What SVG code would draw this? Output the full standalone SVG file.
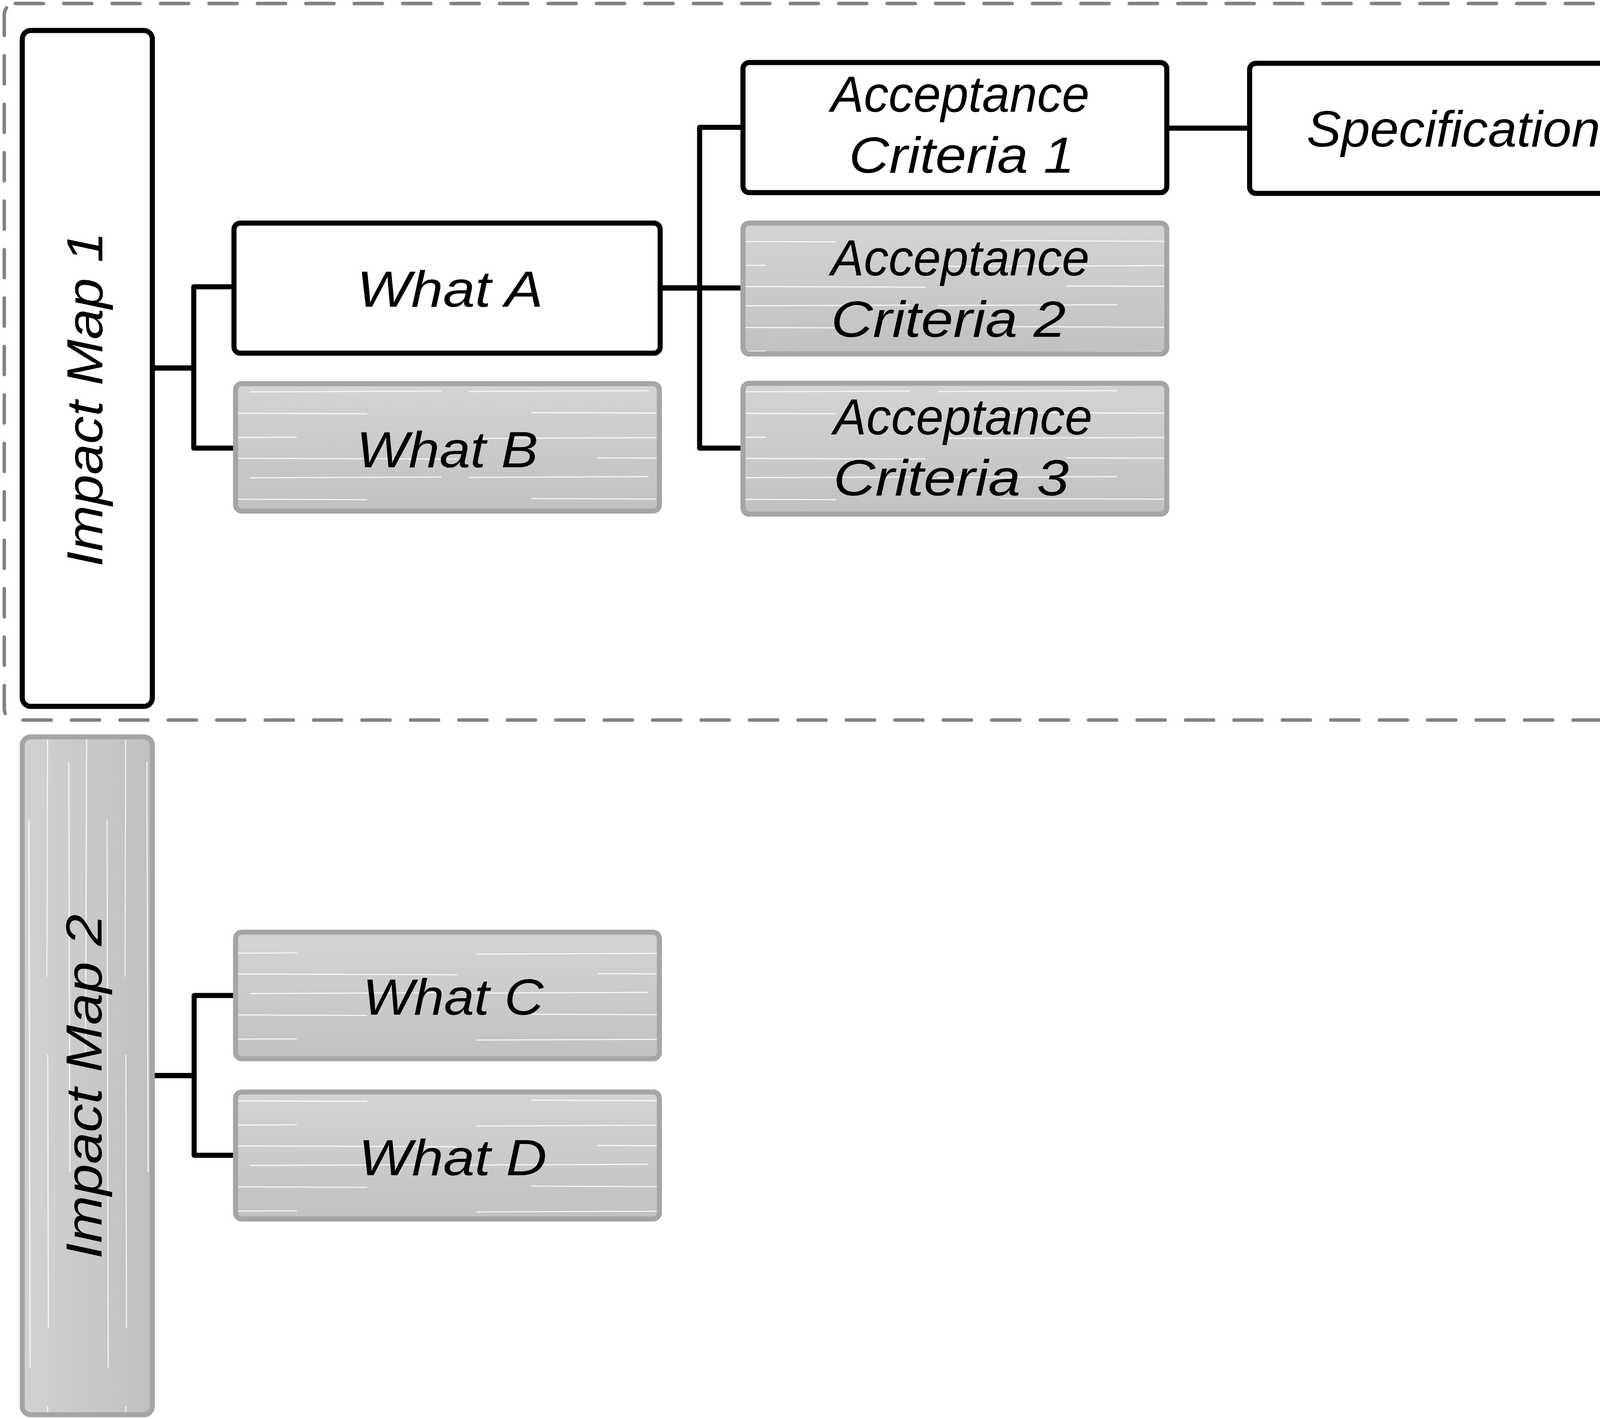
<svg xmlns="http://www.w3.org/2000/svg" width="4401" height="3632" viewBox="0 0 4401 3632">
<style>
  .lbl { font-family: "Liberation Sans", "Noto Sans", sans-serif; font-style: italic; font-size: 130px; fill: #000; text-anchor: middle; }
  .wbox { fill: #ffffff; stroke: #000; stroke-width: 13; stroke-linejoin: round; }
  .gbox { stroke: #a5a5a5; stroke-width: 13; stroke-linejoin: round; }
  .conn { fill: none; stroke: #000; stroke-width: 13; stroke-linecap: round; stroke-linejoin: round; }
  .frame { fill: none; stroke: #828282; stroke-width: 9; stroke-dasharray: 72 52; stroke-linecap: round; }
</style>
<defs>
  <linearGradient id="gV" x1="0" y1="0" x2="0" y2="1">
    <stop offset="0" stop-color="#d4d4d4"/>
    <stop offset="1" stop-color="#c1c1c1"/>
  </linearGradient>
  <linearGradient id="gH" x1="0" y1="0" x2="1" y2="0">
    <stop offset="0" stop-color="#d2d2d2"/>
    <stop offset="1" stop-color="#c0c0c0"/>
  </linearGradient>
  <pattern id="streakH" patternUnits="userSpaceOnUse" width="1200" height="220">
    <g stroke="#ffffff" stroke-width="3" stroke-opacity="0.8" fill="none">
      <path d="M20,22 L760,19"/>
      <path d="M330,72 L1170,75"/>
      <path d="M0,122 L460,120 M640,123 L1130,121"/>
      <path d="M160,176 L940,179"/>
    </g>
  </pattern>
  <pattern id="streakV" patternUnits="userSpaceOnUse" width="200" height="1800">
    <g stroke="#ffffff" stroke-width="3" stroke-opacity="0.8" fill="none">
      <path d="M22,20 L19,900"/>
      <path d="M74,300 L77,1700"/>
      <path d="M122,0 L120,700 M122,900 L124,1600"/>
      <path d="M176,150 L179,1200"/>
    </g>
  </pattern>
</defs>
<rect width="4401" height="3632" fill="#ffffff"/>

<g id="container">
  <rect class="frame" x="11" y="9" width="4377" height="1834" rx="28"/>
</g>

<g id="connectors">
  <path class="conn" d="M390,942 L496,942 L496,734 L599,734"/>
  <path class="conn" d="M390,942 L496,942 L496,1147 L603,1147"/>
  <path class="conn" d="M1690,737 L1791,737 L1791,326 L1902,326"/>
  <path class="conn" d="M1690,737 L1902,737"/>
  <path class="conn" d="M1690,737 L1791,737 L1791,1147 L1902,1147"/>
  <path class="conn" d="M2987,328 L3199,328"/>
  <path class="conn" d="M390,2753 L497,2753 L497,2548 L603,2548"/>
  <path class="conn" d="M390,2753 L497,2753 L497,2957 L603,2957"/>
</g>

<g id="impact-map-1">
  <rect class="wbox" x="57" y="78" width="333" height="1730" rx="22"/>
  <text class="lbl" transform="translate(262,1022) rotate(-90)" textLength="857" lengthAdjust="spacingAndGlyphs">Impact Map 1</text>
</g>

<g id="what-a">
  <rect class="wbox" x="599" y="571" width="1091" height="333" rx="16"/>
  <text class="lbl" x="1152" y="785" textLength="477" lengthAdjust="spacingAndGlyphs">What A</text>
</g>

<g id="what-b">
  <rect x="603" y="982" width="1085" height="326" rx="16" fill="url(#gV)"/>
  <rect class="gbox" x="603" y="982" width="1085" height="326" rx="16" fill="url(#streakH)"/>
  <text class="lbl" x="1145" y="1196" textLength="465" lengthAdjust="spacingAndGlyphs">What B</text>
</g>

<g id="acceptance-criteria-1">
  <rect class="wbox" x="1902" y="160" width="1085" height="333" rx="16"/>
  <text class="lbl" x="2458" y="286" textLength="662" lengthAdjust="spacingAndGlyphs">Acceptance</text>
  <text class="lbl" x="2462" y="442" textLength="577" lengthAdjust="spacingAndGlyphs">Criteria 1</text>
</g>

<g id="specifications">
  <rect class="wbox" x="3199" y="162" width="1081" height="333" rx="16"/>
  <text class="lbl" x="3754" y="375" textLength="818" lengthAdjust="spacingAndGlyphs">Specifications</text>
</g>

<g id="acceptance-criteria-2">
  <rect x="1902" y="571" width="1085" height="335" rx="16" fill="url(#gV)"/>
  <rect class="gbox" x="1902" y="571" width="1085" height="335" rx="16" fill="url(#streakH)"/>
  <text class="lbl" x="2458" y="705" textLength="662" lengthAdjust="spacingAndGlyphs">Acceptance</text>
  <text class="lbl" x="2428" y="862" textLength="601" lengthAdjust="spacingAndGlyphs">Criteria 2</text>
</g>

<g id="acceptance-criteria-3">
  <rect x="1902" y="981" width="1085" height="335" rx="16" fill="url(#gV)"/>
  <rect class="gbox" x="1902" y="981" width="1085" height="335" rx="16" fill="url(#streakH)"/>
  <text class="lbl" x="2465" y="1112" textLength="663" lengthAdjust="spacingAndGlyphs">Acceptance</text>
  <text class="lbl" x="2435" y="1268" textLength="603" lengthAdjust="spacingAndGlyphs">Criteria 3</text>
</g>

<g id="impact-map-2">
  <rect x="57" y="1886" width="333" height="1735" rx="22" fill="url(#gH)"/>
  <rect class="gbox" x="57" y="1886" width="333" height="1735" rx="22" fill="url(#streakV)"/>
  <text class="lbl" transform="translate(260,2781) rotate(-90)" textLength="882" lengthAdjust="spacingAndGlyphs">Impact Map 2</text>
</g>

<g id="what-c">
  <rect x="603" y="2386" width="1085" height="324" rx="16" fill="url(#gV)"/>
  <rect class="gbox" x="603" y="2386" width="1085" height="324" rx="16" fill="url(#streakH)"/>
  <text class="lbl" x="1160" y="2597" textLength="463" lengthAdjust="spacingAndGlyphs">What C</text>
</g>

<g id="what-d">
  <rect x="603" y="2795" width="1085" height="325" rx="16" fill="url(#gV)"/>
  <rect class="gbox" x="603" y="2795" width="1085" height="325" rx="16" fill="url(#streakH)"/>
  <text class="lbl" x="1159" y="3008" textLength="482" lengthAdjust="spacingAndGlyphs">What D</text>
</g>
</svg>
